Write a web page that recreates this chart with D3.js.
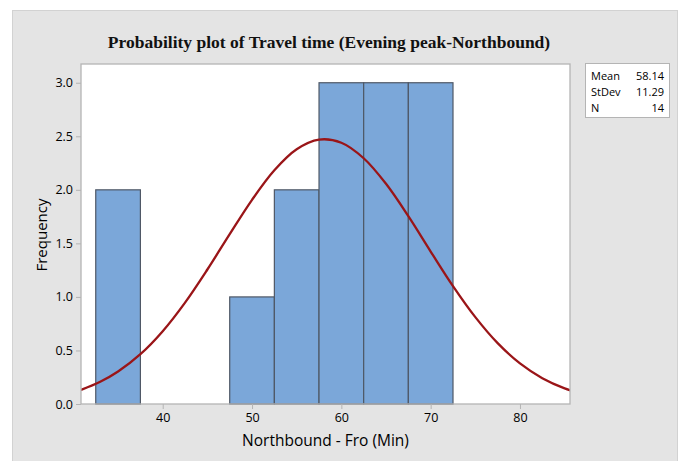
<!DOCTYPE html>
<html>
<head>
<meta charset="utf-8">
<script src="https://cdn.jsdelivr.net/npm/d3@7"></script>
<style>
  body { margin: 0; background: #fff; }
  svg { display: block; }
</style>
</head>
<body>
<div id="chart"></div>
<script>
// histogram bins (lower edge, upper edge, count)
const binStarts = [32.5, 37.5, 42.5, 47.5, 52.5, 57.5, 62.5, 67.5];
const binEnds = [37.5, 42.5, 47.5, 52.5, 57.5, 62.5, 67.5, 72.5];
const binCounts = [2, 0, 0, 1, 2, 3, 3, 3];

// fitted normal curve
const curveX = [30, 31, 33, 35, 37.5, 40, 42.5, 45, 47.5, 50, 52.5, 55, 57.5, 60, 62.5, 65, 67.5, 70, 72.5, 75, 77.5, 80, 82.5, 85, 87];
const curveY = [0.11, 0.137, 0.207, 0.303, 0.465, 0.68, 0.947, 1.256, 1.586, 1.907, 2.183, 2.379, 2.469, 2.44, 2.295, 2.056, 1.754, 1.424, 1.101, 0.811, 0.568, 0.379, 0.241, 0.146, 0.095];

const xTicks = [40, 50, 60, 70, 80];
const yTicks = [0, 0.5, 1, 1.5, 2, 2.5, 3];

const statLabels = ["Mean", "StDev", "N"];
const statValues = ["58.14", "11.29", "14"];

const W = 688, H = 461;
const margin = { top: 64, right: 118, bottom: 57, left: 81 },
    width = W - margin.left - margin.right,
    height = H - margin.top - margin.bottom;

const svgContainer = d3.select("#chart").append("svg")
    .attr("width", W)
    .attr("height", H);

// grey panel
svgContainer.append("rect")
    .attr("x", 12.5).attr("y", 10.5)
    .attr("width", 665).attr("height", 460)
    .attr("fill", "#e4e4e4")
    .attr("stroke", "#d2d2d2");

svgContainer.append("text")
    .attr("x", 329)
    .attr("y", 48)
    .attr("text-anchor", "middle")
    .style("font-family", "'Liberation Serif', 'Times New Roman', serif")
    .style("font-weight", "bold")
    .style("font-size", "17.5px")
    .style("fill", "#111")
    .text("Probability plot of Travel time (Evening peak-Northbound)");

const svg = svgContainer.append("g")
    .attr("transform", `translate(${margin.left},${margin.top})`);

const x = d3.scaleLinear()
    .domain([30.85, 85.6])
    .range([0, width]);

const y = d3.scaleLinear()
    .domain([0, 3.175])
    .range([height, 0]);

svg.append("rect")
    .attr("width", width)
    .attr("height", height)
    .attr("fill", "#fff");

svg.append("clipPath").attr("id", "plot-clip")
    .append("rect").attr("width", width).attr("height", height);

svg.selectAll(".bar")
    .data(binCounts)
    .join("rect")
    .attr("class", "bar")
    .attr("x", (d, i) => x(binStarts[i]))
    .attr("y", d => y(d))
    .attr("width", (d, i) => x(binEnds[i]) - x(binStarts[i]))
    .attr("height", d => y(0) - y(d))
    .attr("fill", "#7ba7d9")
    .attr("stroke", "#4f5866")
    .attr("stroke-width", 1.2);

const line = d3.line()
    .x((d, i) => x(curveX[i]))
    .y(d => y(d))
    .curve(d3.curveCatmullRom);

svg.append("path")
    .datum(curveY)
    .attr("clip-path", "url(#plot-clip)")
    .attr("fill", "none")
    .attr("stroke", "#9a1518")
    .attr("stroke-width", 2.3)
    .attr("d", line);

// plot frame
svg.append("rect")
    .attr("width", width)
    .attr("height", height)
    .attr("fill", "none")
    .attr("stroke", "#b4b4b4")
    .attr("stroke-width", 1.3);

const tickFont = "'Open Sans', 'Noto Sans', sans-serif";

const xAxisGroup = svg.append("g")
    .attr("transform", `translate(0,${height})`)
    .call(d3.axisBottom(x).tickValues(xTicks).tickSize(5).tickPadding(4).tickSizeOuter(0));

xAxisGroup.select(".domain").remove();
xAxisGroup.selectAll("line").style("stroke", "#b4b4b4");
xAxisGroup.selectAll("text")
    .style("fill", "#000")
    .style("font-family", tickFont)
    .style("font-size", "12.5px");

const yAxisGroup = svg.append("g")
    .call(d3.axisLeft(y).tickValues(yTicks).tickFormat(d3.format(".1f")).tickSize(5).tickPadding(3).tickSizeOuter(0));

yAxisGroup.select(".domain").remove();
yAxisGroup.selectAll("line").style("stroke", "#b4b4b4");
yAxisGroup.selectAll("text")
    .style("fill", "#000")
    .style("font-family", tickFont)
    .style("font-size", "12.5px");

svg.append("text")
    .attr("x", width / 2)
    .attr("y", height + 42)
    .attr("text-anchor", "middle")
    .style("font-family", tickFont)
    .style("font-weight", "500")
    .style("font-size", "15.5px")
    .style("fill", "#000")
    .text("Northbound - Fro (Min)");

svg.append("text")
    .attr("transform", "rotate(-90)")
    .attr("x", -height / 2 - 1)
    .attr("y", -34)
    .attr("text-anchor", "middle")
    .style("font-family", tickFont)
    .style("font-weight", "500")
    .style("font-size", "15px")
    .style("fill", "#000")
    .text("Frequency");

// stats box
const legend = svgContainer.append("g");
legend.append("rect")
    .attr("x", 585.5).attr("y", 63.5)
    .attr("width", 84).attr("height", 54)
    .attr("fill", "#fff")
    .attr("stroke", "#b4b4b4");

statLabels.forEach((lab, i) => {
    legend.append("text")
        .attr("x", 591)
        .attr("y", 80 + i * 16)
        .style("font-family", tickFont)
        .style("font-size", "11px")
        .style("fill", "#000")
        .text(lab);
    legend.append("text")
        .attr("x", 664)
        .attr("y", 80 + i * 16)
        .attr("text-anchor", "end")
        .style("font-family", tickFont)
        .style("font-size", "11px")
        .style("fill", "#000")
        .text(statValues[i]);
});
</script>
</body>
</html>
